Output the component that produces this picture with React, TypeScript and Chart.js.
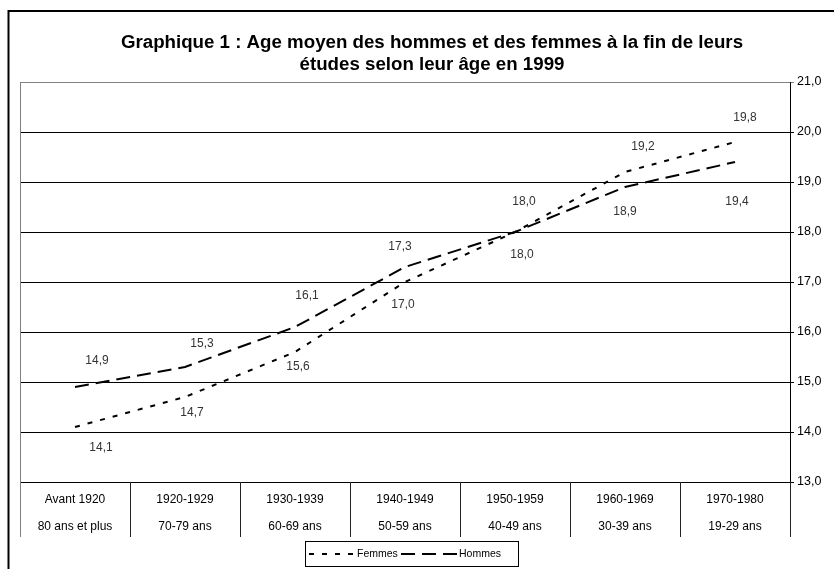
import React, { useEffect, useRef } from "react";
import { Chart, registerables } from "chart.js";

Chart.register(...registerables);

const categoriesTop = ["Avant 1920", "1920-1929", "1930-1939", "1940-1949", "1950-1959", "1960-1969", "1970-1980"];
const categoriesBottom = ["80 ans et plus", "70-79 ans", "60-69 ans", "50-59 ans", "40-49 ans", "30-39 ans", "19-29 ans"];
const femmes = [14.1, 14.7, 15.6, 17.0, 18.0, 19.2, 19.8];
const hommes = [14.9, 15.3, 16.1, 17.3, 18.0, 18.9, 19.4];
const seriesNames = ["Femmes", "Hommes"];
const titleLines = [
  "Graphique 1 : Age moyen des hommes et des femmes à la fin de leurs",
  "études selon leur âge en 1999",
];
const yMin = 13;
const yMax = 21;
const yStep = 1;

// label placement offsets in pixels (dx, dy) relative to each point
const femmesLabelOffsets = [[26, 21], [7, 16], [3, 15], [-2, 23], [7, 23], [18, -25], [10, -24]];
const hommesLabelOffsets = [[22, -26], [17, -23], [12, -31], [-5, -20], [9, -30], [0, 25], [2, 40]];

const FONT = "'Liberation Sans', Arial, sans-serif";
const FEMMES_DASH = [5, 8];
const HOMMES_DASH = [14, 7];

const fmt = (v: number) => v.toFixed(1).replace(".", ",");

const decorPlugin = {
  id: "decor",
  beforeDraw(chart: any) {
    const ctx = chart.ctx;
    ctx.save();
    ctx.fillStyle = "#fff";
    ctx.fillRect(0, 0, chart.width, chart.height);
    // outer frame
    ctx.strokeStyle = "#000";
    ctx.lineWidth = 2;
    ctx.beginPath();
    ctx.moveTo(8.5, chart.height + 5);
    ctx.lineTo(8.5, 11);
    ctx.lineTo(chart.width + 5, 11);
    ctx.stroke();
    ctx.restore();
  },
  afterDatasetsDraw(chart: any) {
    const ctx = chart.ctx;
    const area = chart.chartArea;
    const xScale = chart.scales.x;
    ctx.save();
    // data labels
    const offsets = [femmesLabelOffsets, hommesLabelOffsets];
    ctx.font = `12px ${FONT}`;
    ctx.fillStyle = "#333";
    ctx.textAlign = "center";
    ctx.textBaseline = "middle";
    chart.data.datasets.forEach((ds: any, di: number) => {
      const meta = chart.getDatasetMeta(di);
      meta.data.forEach((pt: any, i: number) => {
        const [dx, dy] = offsets[di][i];
        ctx.fillText(fmt(ds.data[i]), pt.x + dx, pt.y + dy);
      });
    });

    // title
    ctx.fillStyle = "#000";
    ctx.font = `bold 18.7px ${FONT}`;
    ctx.fillText(titleLines[0], 432, 43);
    ctx.fillText(titleLines[1], 432, 65);

    // left border of plot area + table
    const tableBottom = 537;
    ctx.strokeStyle = "#808080";
    ctx.lineWidth = 1;
    ctx.beginPath();
    ctx.moveTo(Math.round(area.left) + 0.5, area.top);
    ctx.lineTo(Math.round(area.left) + 0.5, tableBottom);
    ctx.stroke();

    // category table separators
    ctx.strokeStyle = "#222";
    const n = categoriesTop.length;
    const step = xScale.getPixelForValue(1) - xScale.getPixelForValue(0);
    for (let i = 1; i <= n; i++) {
      const xb = xScale.getPixelForValue(i - 1) + step / 2;
      const xx = Math.round(xb) + 0.5;
      ctx.beginPath();
      ctx.moveTo(xx, area.bottom);
      ctx.lineTo(xx, tableBottom);
      ctx.stroke();
    }
    ctx.font = `12px ${FONT}`;
    ctx.fillStyle = "#000";
    for (let i = 0; i < n; i++) {
      const cx = xScale.getPixelForValue(i);
      ctx.fillText(categoriesTop[i], cx, 500);
      ctx.fillText(categoriesBottom[i], cx, 527);
    }

    // legend
    const lx = 305, ly = 541, lw = 213, lh = 25;
    ctx.strokeStyle = "#000";
    ctx.lineWidth = 1;
    ctx.strokeRect(lx + 0.5, ly + 0.5, lw, lh);
    const cy = ly + 13;
    ctx.lineWidth = 2;
    ctx.setLineDash(FEMMES_DASH);
    ctx.beginPath();
    ctx.moveTo(309, cy);
    ctx.lineTo(356, cy);
    ctx.stroke();
    ctx.setLineDash(HOMMES_DASH);
    ctx.beginPath();
    ctx.moveTo(401, cy);
    ctx.lineTo(457, cy);
    ctx.stroke();
    ctx.setLineDash([]);
    ctx.font = `10.5px ${FONT}`;
    ctx.textAlign = "left";
    ctx.fillText(seriesNames[0], 357, cy);
    ctx.fillText(seriesNames[1], 459, cy);
    ctx.restore();
  },
};

export default function App() {
  const ref = useRef<HTMLCanvasElement>(null);
  useEffect(() => {
    if (!ref.current) return;
    const chart = new Chart(ref.current, {
      type: "line",
      data: {
        labels: categoriesTop,
        datasets: [
          {
            label: seriesNames[0],
            data: femmes,
            borderColor: "#000",
            borderWidth: 2,
            borderDash: FEMMES_DASH,
            pointRadius: 0,
            fill: false,
            tension: 0,
          },
          {
            label: seriesNames[1],
            data: hommes,
            borderColor: "#000",
            borderWidth: 2,
            borderDash: HOMMES_DASH,
            pointRadius: 0,
            fill: false,
            tension: 0,
          },
        ],
      },
      options: {
        responsive: false,
        animation: false,
        layout: { padding: { left: 20, top: 82, right: 0, bottom: 569 - 482 } },
        plugins: {
          legend: { display: false },
          title: { display: false },
          tooltip: { enabled: false },
        },
        scales: {
          x: { type: "category", offset: true, display: false },
          y: {
            position: "right",
            min: yMin,
            max: yMax,
            ticks: {
              stepSize: yStep,
              callback: (v: any) => fmt(Number(v)),
              color: "#000",
              font: { family: FONT, size: 12.5 },
              padding: 3,
            },
            grid: {
              color: (c: any) => (c.tick && c.tick.value === yMax ? "#808080" : "#000"),
              lineWidth: 1,
              tickLength: 4,
              drawTicks: true,
            },
            border: { display: true, color: "#000", width: 1 },
            afterFit: (s: any) => {
              s.width = 44;
            },
          },
        },
      },
      plugins: [decorPlugin],
    } as any);
    return () => chart.destroy();
  }, []);
  return (
    <div style={{ position: "fixed", left: 0, top: 0, width: 834, height: 569, background: "#fff" }}>
      <canvas ref={ref} width={834} height={569} style={{ display: "block" }} />
    </div>
  );
}
